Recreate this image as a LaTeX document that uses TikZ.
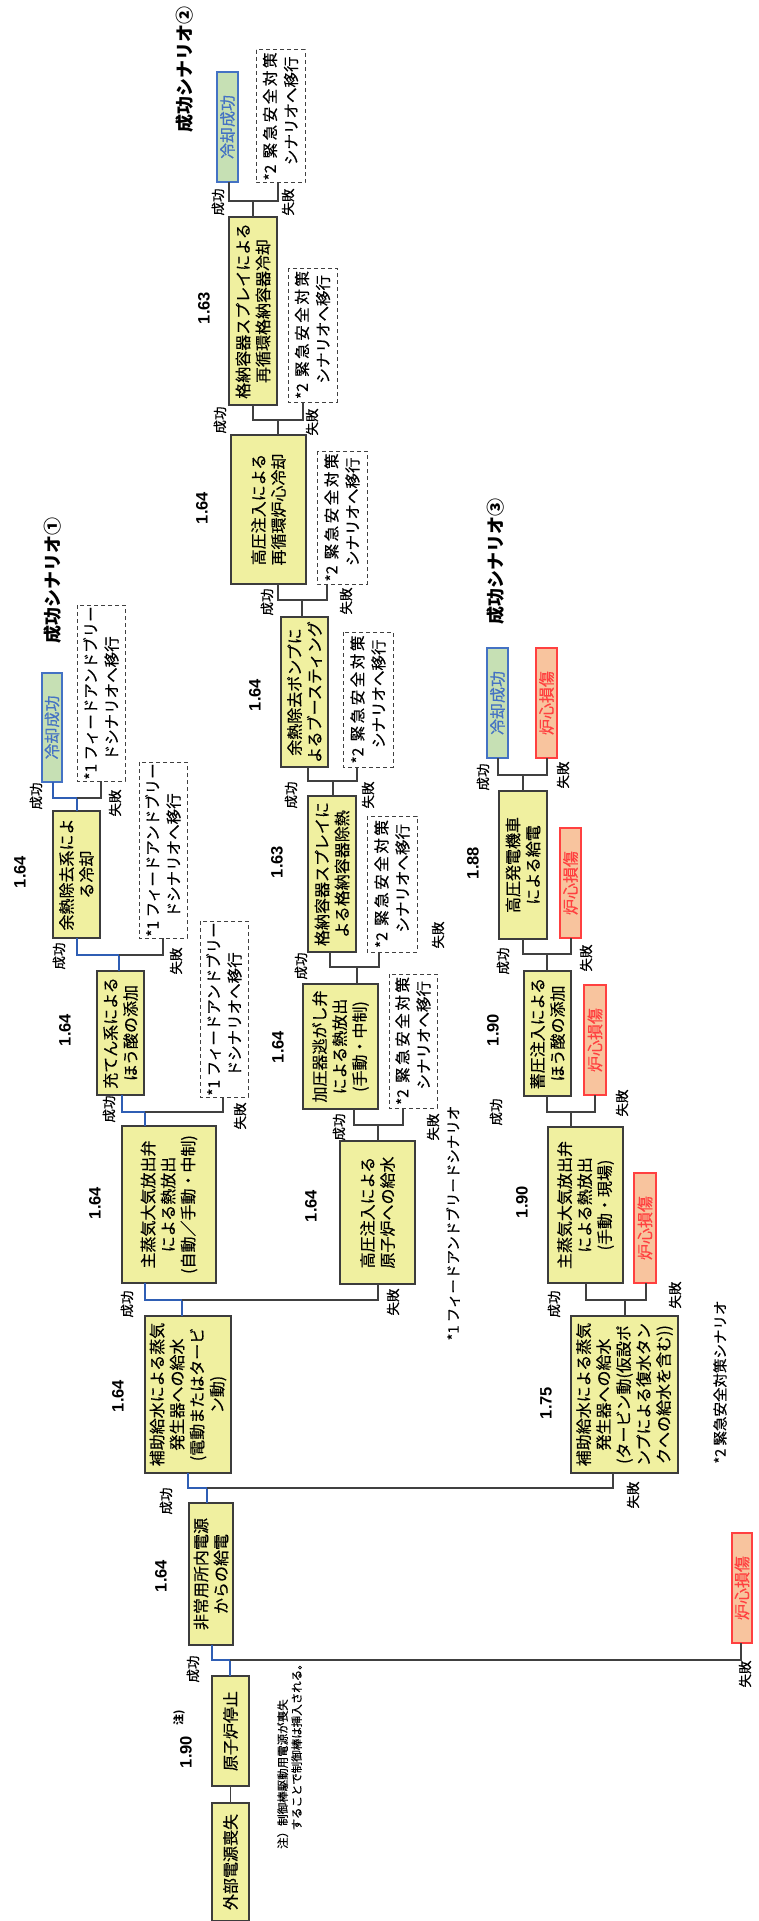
\documentclass[tikz,border=0pt]{standalone}
\usepackage{fontspec}
\setmainfont{Noto Sans CJK JP}[UprightFeatures={FakeBold=0.35}]
\newfontfamily\numfont{Liberation Sans}
\definecolor{boxfill}{RGB}{240,240,160}
\definecolor{boxline}{RGB}{60,60,60}
\definecolor{gfill}{RGB}{198,224,180}
\definecolor{gline}{RGB}{68,114,196}
\definecolor{rfill}{RGB}{248,196,158}
\definecolor{rline}{RGB}{255,64,64}
\definecolor{blueline}{RGB}{47,94,180}
\definecolor{kline}{RGB}{64,64,64}
\tikzset{
  ybox/.style={draw=boxline, line width=1.3pt, fill=boxfill, rotate=90, inner sep=0pt, outer sep=0pt, align=center, font=\fontsize{16}{20}\selectfont},
  gbox/.style={draw=gline, line width=1.2pt, fill=gfill, text=gline, rotate=90, inner sep=0pt, outer sep=0pt, font=\fontsize{16}{18}\selectfont},
  rbox/.style={draw=rline, line width=1.2pt, fill=rfill, text=rline, rotate=90, inner sep=0pt, outer sep=0pt, font=\fontsize{16}{18}\selectfont},
  dbox/.style={draw=kline, line width=1pt, dash pattern=on 4pt off 3pt, fill=white, rotate=90, inner sep=0pt, outer sep=0pt, align=left, font=\fontsize{15.5}{21}\selectfont},
  lab/.style={rotate=90, inner sep=0pt, font=\fontsize{13.5}{13.5}\selectfont},
  num/.style={rotate=90, inner sep=0pt, font=\numfont\bfseries\fontsize{16.5}{16.5}\selectfont},
  ttl/.style={rotate=90, inner sep=0pt, font=\bfseries\fontsize{18}{18}\selectfont},
  ann/.style={rotate=90, inner sep=0pt, font=\fontsize{14.5}{14.5}\selectfont},
  note/.style={rotate=90, inner sep=0pt, align=left, font=\fontsize{11.5}{14}\selectfont},
  bl/.style={draw=blueline, line width=1.9pt},
  kl/.style={draw=kline, line width=1.2pt},
}
% #1 box, #2 stem x, #3 branch y, #4 success x, #5 success node, #6 fail x, #7 fail node, #8 success style
\newcommand\evbranch[8]{%
  \draw[#8] (#1.east -| #2,0) -- (#2,#3) -- (#4,#3) -- (#5.west -| #4,0);
  \draw[kl] (#2,#3) -- (#6,#3) -- (#7.west -| #6,0);}
\newcommand\stwo{*2\hspace{0.4em}緊\,急\,安\,全\,対\,策\\\hspace*{1em}シナリオへ移行}
\newcommand\sone{*1 フィードアンドブリー\\\hspace*{1.25em}ドシナリオへ移行}
\begin{document}
\begin{tikzpicture}[x=1pt,y=-1pt]
\useasboundingbox (0,0) rectangle (758,1921);
\fill[white] (0,0) rectangle (758,1921);

% main boxes
\node[ybox, minimum width=118pt, minimum height=37pt] (A0) at (230.5,1862) {外部電源喪失};
\node[ybox, minimum width=110pt, minimum height=37pt] (A1) at (230.5,1731) {原子炉停止};
\node[ybox, minimum width=142pt, minimum height=44pt] (A2) at (211,1574) {非常用所内電源\\からの給電};
\node[ybox, minimum width=157pt, minimum height=86pt] (S1) at (188,1394.5) {補助給水による蒸気\\発生器への給水\\(電動またはタービ\\ン動)};
\node[ybox, minimum width=157pt, minimum height=94pt] (S2) at (169,1204.5) {主蒸気大気放出弁\\による熱放出\\(自動／手動・中制)};
\node[ybox, minimum width=124pt, minimum height=47pt] (S3) at (120.5,1033) {充てん系による\\ほう酸の添加};
\node[ybox, minimum width=127pt, minimum height=47pt] (S4) at (76.5,874.5) {余熱除去系によ\\る冷却};
\node[ybox, minimum width=143pt, minimum height=75pt] (F1) at (377.5,1212.5) {高圧注入による\\原子炉への給水};
\node[ybox, minimum width=125pt, minimum height=75pt] (F2) at (340.5,1046.5) {加圧器逃がし弁\\による熱放出\\(手動・中制)};
\node[ybox, minimum width=156pt, minimum height=48pt] (F3) at (332,874) {格納容器スプレイに\\よる格納容器除熱};
\node[ybox, minimum width=150pt, minimum height=47pt] (F4) at (304.5,692) {余熱除去ポンプに\\よるブースティング};
\node[ybox, minimum width=149pt, minimum height=75pt] (F5) at (268.5,509.5) {高圧注入による\\再循環炉心冷却};
\node[ybox, minimum width=188pt, minimum height=48pt] (F6) at (253,311) {格納容器スプレイによる\\再循環格納容器冷却};
\node[ybox, minimum width=157pt, minimum height=107pt] (T1) at (624.5,1394.5) {補助給水による蒸気\\発生器への給水\\(タービン動(仮設ポ\\ンプによる復水タン\\クへの給水を含む))};
\node[ybox, minimum width=156pt, minimum height=75pt] (T2) at (585.5,1205) {主蒸気大気放出弁\\による熱放出\\(手動・現場)};
\node[ybox, minimum width=125pt, minimum height=47pt] (T3) at (547.5,1033.5) {蓄圧注入による\\ほう酸の添加};
\node[ybox, minimum width=148pt, minimum height=48pt] (T4) at (523,865) {高圧発電機車\\による給電};

% end states
\node[gbox, minimum width=109pt, minimum height=20pt] (G1) at (52,727.5) {冷却成功};
\node[gbox, minimum width=110pt, minimum height=21pt] (G2) at (227.5,127) {冷却成功};
\node[gbox, minimum width=110pt, minimum height=21pt] (G3) at (497.5,703) {冷却成功};
\node[rbox, minimum width=110pt, minimum height=21pt] (R1) at (546.5,703) {炉心損傷};
\node[rbox, minimum width=110pt, minimum height=21pt] (R2) at (570.5,883) {炉心損傷};
\node[rbox, minimum width=110pt, minimum height=22pt] (R3) at (595,1040) {炉心損傷};
\node[rbox, minimum width=110pt, minimum height=22pt] (R4) at (645,1228) {炉心損傷};
\node[rbox, minimum width=110pt, minimum height=20pt] (R5) at (742,1588) {炉心損傷};

% dashed transfer boxes
\node[dbox, minimum width=176pt, minimum height=48pt] (D1) at (101,693) {\sone};
\node[dbox, minimum width=176pt, minimum height=48pt] (D2) at (163,850) {\sone};
\node[dbox, minimum width=176pt, minimum height=48pt] (D3) at (224,1009) {\sone};
\node[dbox, minimum width=133pt, minimum height=49pt] (E1) at (280.5,116.5) {\stwo};
\node[dbox, minimum width=134pt, minimum height=49pt] (E2) at (312.5,335) {\stwo};
\node[dbox, minimum width=133pt, minimum height=50pt] (E3) at (342,517.5) {\stwo};
\node[dbox, minimum width=135pt, minimum height=50pt] (E4) at (368,699.5) {\stwo};
\node[dbox, minimum width=136pt, minimum height=50pt] (E5) at (392,884) {\stwo};
\node[dbox, minimum width=134pt, minimum height=48pt] (E6) at (413,1041) {\stwo};

% connectors
\draw[kl] (A0.east) -- (A1.west);
\evbranch{A1}{230}{1660}{212}{A2}{741}{R5}{bl}
\evbranch{A2}{207}{1488}{188}{S1}{613}{T1}{bl}
\evbranch{S1}{182}{1300}{145}{S2}{378}{F1}{bl}
\evbranch{S2}{145}{1112}{122}{S3}{223}{D3}{bl}
\evbranch{S3}{119}{955}{77}{S4}{163}{D2}{bl}
\evbranch{S4}{77}{798}{53}{G1}{101}{D1}{bl}
\evbranch{F1}{378}{1125}{354}{F2}{403}{E6}{kl}
\evbranch{F2}{357}{967}{330}{F3}{379}{E5}{kl}
\evbranch{F3}{333}{781}{308}{F4}{357}{E4}{kl}
\evbranch{F4}{302}{600}{278}{F5}{327}{E3}{kl}
\evbranch{F5}{278}{420}{253}{F6}{303}{E2}{kl}
\evbranch{F6}{253}{201}{229}{G2}{278}{E1}{kl}
\evbranch{T1}{625}{1300}{586}{T2}{646}{R4}{kl}
\evbranch{T2}{571}{1112}{547}{T3}{595}{R3}{kl}
\evbranch{T3}{547}{954}{523}{T4}{571}{R2}{kl}
\evbranch{T4}{523}{775}{498}{G3}{547}{R1}{kl}

% success / failure labels
\node[lab] (s1) at (193,1669) {成功};  \node[lab] (f1) at (745,1674) {失敗};
\node[lab] (s2) at (166,1501) {成功};  \node[lab] (f2) at (633,1495) {失敗};
\node[lab] (s3) at (127,1304) {成功};  \node[lab] (f3) at (393,1302) {失敗};
\node[lab] (s4) at (109,1109) {成功};  \node[lab] (f4) at (240,1116) {失敗};
\node[lab] (s5) at (59,956) {成功};    \node[lab] (f5) at (176,961) {失敗};
\node[lab] (s6) at (36,796) {成功};    \node[lab] (f6) at (115,803) {失敗};
\node[lab] (s7) at (339,1127) {成功};  \node[lab] (f7) at (433,1127) {失敗};
\node[lab] (s8) at (301,966) {成功};   \node[lab] (f8) at (438,935) {失敗};
\node[lab] (s9) at (291,795) {成功};   \node[lab] (f9) at (368,795) {失敗};
\node[lab] (s10) at (267,602) {成功};  \node[lab] (f10) at (346,601) {失敗};
\node[lab] (s11) at (220,420) {成功};  \node[lab] (f11) at (312,422) {失敗};
\node[lab] (s12) at (218,202) {成功};  \node[lab] (f12) at (288,202) {失敗};
\node[lab] (s13) at (554,1304) {成功}; \node[lab] (f13) at (675,1295) {失敗};
\node[lab] (s14) at (496,1112) {成功}; \node[lab] (f14) at (622,1103) {失敗};
\node[lab] (s15) at (503,961) {成功};  \node[lab] (f15) at (586,958) {失敗};
\node[lab] (s16) at (483,777) {成功};  \node[lab] (f16) at (563,775) {失敗};

% numbers
\node[num] (n1) at (204,308) {1.63};
\node[num] (n2) at (202,508) {1.64};
\node[num] (n3) at (255,695) {1.64};
\node[num] (n4) at (277,862) {1.63};
\node[num] (n5) at (278,1047) {1.64};
\node[num] (n6) at (311,1206) {1.64};
\node[num] (n7) at (20,872) {1.64};
\node[num] (n8) at (65,1030) {1.64};
\node[num] (n9) at (95,1203) {1.64};
\node[num] (n10) at (118,1396) {1.64};
\node[num] (n11) at (161,1576) {1.64};
\node[num] (n12) at (186,1752) {1.90};
\node[num, font=\bfseries\fontsize{11}{11}\selectfont] (n12b) at (179,1718) {注)};
\node[num] (n13) at (473,863) {1.88};
\node[num] (n14) at (493,1030) {1.90};
\node[num] (n15) at (522,1202) {1.90};
\node[num] (n16) at (546,1403) {1.75};

% titles
\node[ttl] (t1) at (52.5,580) {成功シナリオ①};
\node[ttl] (t2) at (185,70) {成功シナリオ②};
\node[ttl] (t3) at (496,561) {成功シナリオ③};

% annotations
\node[ann] (a1) at (453,1223) {*1 フィードアンドブリードシナリオ};
\node[ann] (a2) at (720,1382) {*2 緊急安全対策シナリオ};
\node[note, anchor=north west] (nt) at (277,1849) {注）制御棒駆動用電源が喪失\\\hspace*{1.6em}することで制御棒は挿入される。};
\end{tikzpicture}
\end{document}
